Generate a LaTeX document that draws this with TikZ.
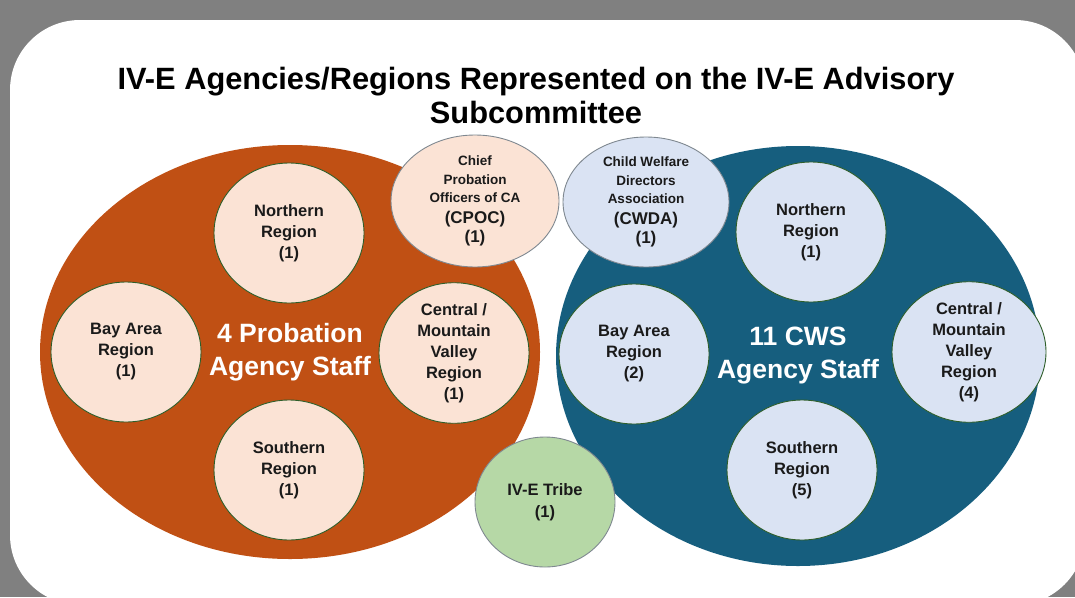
\documentclass[tikz,border=0pt]{standalone}
\usepackage{fontspec}
\setmainfont{Liberation Sans}
\usetikzlibrary{shapes.geometric}
\definecolor{bggray}{HTML}{808080}
\definecolor{probor}{HTML}{C05014}
\definecolor{cwsblue}{HTML}{165E7E}
\definecolor{peach}{HTML}{FBE3D5}
\definecolor{paleblue}{HTML}{DAE3F3}
\definecolor{palegreen}{HTML}{B6D8A6}
\definecolor{rimgreen}{HTML}{2E5E2A}
\definecolor{rimgray}{HTML}{7F8890}
\definecolor{txt}{HTML}{1A1A1A}
\newcommand{\bigtxtfont}{\fontsize{17}{20}\selectfont}
\begin{document}
\begin{tikzpicture}[x=1pt,y=-1pt,
  big/.style={ellipse, inner sep=0pt, text=white, align=center,
    font=\bfseries\fontsize{26.5}{33}\selectfont},
  region/.style={ellipse, draw=rimgreen, line width=0.9pt, inner sep=0pt,
    minimum width=150pt, minimum height=140pt, align=center, text=txt,
    font=\bfseries\fontsize{16.5}{21}\selectfont},
  orgbox/.style={ellipse, draw=rimgray, line width=0.9pt, inner sep=0pt,
    align=center, text=txt, font=\bfseries\fontsize{13.5}{18.5}\selectfont}
]
\useasboundingbox (0,0) rectangle (1075,597);
\fill[bggray] (0,0) rectangle (1075,597);
\fill[white, rounded corners=70pt] (10,20) rectangle (1085,605);

\node[font=\bfseries\fontsize{30.8}{34}\selectfont, align=center, text=black] (title) at (536,95)
  {IV-E Agencies/Regions Represented on the IV-E Advisory\\Subcommittee};

% big ellipses
\node[big, fill=probor, minimum width=500pt, minimum height=414pt] (prob) at (290,352)
  {4 Probation\\Agency Staff};
\node[big, fill=cwsblue, minimum width=484pt, minimum height=420pt] (cws) at (798,356)
  {11 CWS\\Agency Staff};

% probation regions
\node[region, fill=peach] (pn) at (289,233) {Northern\\Region\\(1)};
\node[region, fill=peach] (pb) at (126,352) {Bay Area\\Region\\(1)};
\node[region, fill=peach] (pc) at (454,353) {Central /\\Mountain\\Valley\\Region\\(1)};
\node[region, fill=peach] (ps) at (289,470) {Southern\\Region\\(1)};

% CWS regions
\node[region, fill=paleblue] (cn) at (811,232) {Northern\\Region\\(1)};
\node[region, fill=paleblue] (cb) at (634,354) {Bay Area\\Region\\(2)};
\node[region, fill=paleblue, minimum width=154pt, minimum height=134pt] (cc) at (969,352) {Central /\\Mountain\\Valley\\Region\\(4)};
\node[region, fill=paleblue] (cs) at (802,470) {Southern\\Region\\(5)};

% associations
\node[orgbox, fill=peach, minimum width=168pt, minimum height=132pt] (cpoc) at (475,201)
  {Chief\\Probation\\Officers of CA\\[2pt]{\bigtxtfont (CPOC)}\\[1pt]{\bigtxtfont (1)}};
\node[orgbox, fill=paleblue, minimum width=166pt, minimum height=130pt] (cwda) at (646,202)
  {Child Welfare\\Directors\\Association\\[2pt]{\bigtxtfont (CWDA)}\\[1pt]{\bigtxtfont (1)}};
\node[orgbox, fill=palegreen, minimum width=140pt, minimum height=130pt,
  font=\bfseries\fontsize{16.5}{22}\selectfont] (tribe) at (545,502) {IV-E Tribe\\(1)};
\end{tikzpicture}
\end{document}
